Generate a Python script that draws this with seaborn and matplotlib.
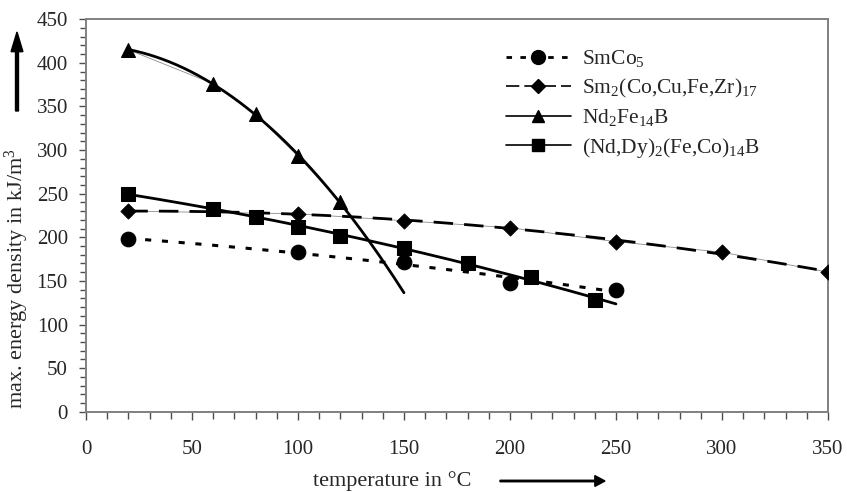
import numpy as np
import pandas as pd
import matplotlib
matplotlib.use("Agg")
from matplotlib import pyplot as plt
from matplotlib.lines import Line2D
from matplotlib.ticker import MultipleLocator
import seaborn as sns

# measured points (temperature in degC, energy density in kJ/m3)
smco5_t = [20, 100, 150, 200, 250]
smco5_bh = [198, 183, 172, 148, 140]

sm2co17_t = [20, 100, 150, 200, 250, 300, 350]
sm2co17_bh = [230, 227, 219, 211, 195, 183, 160]

ndfeb_t = [20, 60, 80, 100, 120]
ndfeb_bh = [415, 376, 341, 293, 240]

nddy_t = [20, 60, 80, 100, 120, 150, 180, 210, 240]
nddy_bh = [250, 233, 223, 212, 202, 188, 170, 154, 128]

sns.set_style("ticks")
plt.rcParams['font.family'] = ['Liberation Serif', 'DejaVu Serif']
plt.rcParams['mathtext.fontset'] = 'custom'
plt.rcParams['mathtext.rm'] = 'Liberation Serif'
plt.rcParams['mathtext.it'] = 'Liberation Serif:italic'


def trend(t, bh, t_end, order=2):
    coef = np.polyfit(t, bh, order)
    xs = np.linspace(t[0], t_end, 200)
    return pd.DataFrame({'t': xs, 'bh': np.polyval(coef, xs)})


fig = plt.figure(figsize=(8.47, 4.92), dpi=100)
ax = fig.add_axes([0.1015, 0.163, 0.876, 0.798])

# thin connecting lines between measured points
for t, bh in [(sm2co17_t, sm2co17_bh), (ndfeb_t, ndfeb_bh)]:
    sns.lineplot(x=t, y=bh, ax=ax, color='0.55', linewidth=0.6, sort=False)

# fitted trend lines
d = trend(smco5_t, smco5_bh, 250)
sns.lineplot(data=d, x='t', y='bh', ax=ax, color='black', linewidth=2.2,
             linestyle=(0, (2, 3.5)))
d = trend(sm2co17_t, sm2co17_bh, 350)
sns.lineplot(data=d, x='t', y='bh', ax=ax, color='black', linewidth=2.0,
             linestyle=(0, (7, 4)))
d = trend(ndfeb_t, ndfeb_bh, 150)
sns.lineplot(data=d, x='t', y='bh', ax=ax, color='black', linewidth=2.0)
d = trend(nddy_t, nddy_bh, 250)
sns.lineplot(data=d, x='t', y='bh', ax=ax, color='black', linewidth=2.0)

# markers
sns.scatterplot(x=smco5_t, y=smco5_bh, ax=ax, marker='o', s=110, color='black', edgecolor='black', zorder=5)
sns.scatterplot(x=sm2co17_t, y=sm2co17_bh, ax=ax, marker='D', s=60, color='black', edgecolor='black', zorder=5)
sns.scatterplot(x=ndfeb_t, y=ndfeb_bh, ax=ax, marker='^', s=100, color='black', edgecolor='black', zorder=5)
sns.scatterplot(x=nddy_t, y=nddy_bh, ax=ax, marker='s', s=90, color='black', edgecolor='black', zorder=5)

ax.set_xlim(0, 350)
ax.set_ylim(0, 450)
ax.xaxis.set_major_locator(MultipleLocator(50))
ax.xaxis.set_minor_locator(MultipleLocator(10))
ax.yaxis.set_major_locator(MultipleLocator(50))
ax.yaxis.set_minor_locator(MultipleLocator(10))
for s in ax.spines.values():
    s.set_color('0.5')
    s.set_linewidth(1.4)
ax.tick_params(which='both', color='0.3', width=1.0)
ax.tick_params(axis='x', which='major', length=6, pad=14, labelsize=15)
ax.tick_params(axis='x', which='minor', length=5)
ax.tick_params(axis='y', which='major', length=5, pad=8, labelsize=15)
ax.tick_params(axis='y', which='minor', length=4)
ax.set_xlabel('')
ax.set_ylabel('')

# axis labels with arrows
fig.text(392 / 847, 1 - 481 / 492, 'temperature in °C', ha='center', va='center', fontsize=16)
fig.text(17 / 847, 1 - 279 / 492, 'max. energy density in kJ/m$^3$', ha='center', va='center',
         rotation=90, fontsize=16)
fig.patches.append(matplotlib.patches.FancyArrow(
    500 / 847, 1 - 481 / 492, 105 / 847, 0, width=0.003, head_width=0.022,
    head_length=0.012, length_includes_head=True, color='black', transform=fig.transFigure))
fig.patches.append(matplotlib.patches.FancyArrow(
    17 / 847, 1 - 111 / 492, 0, 79 / 492, width=0.0035, head_width=0.014,
    head_length=0.04, length_includes_head=True, color='black', transform=fig.transFigure))

handles = [
    Line2D([], [], color='black', linestyle=(0, (2, 3)), linewidth=2, marker='o', markersize=10),
    Line2D([], [], color='black', linestyle=(0, (8, 3)), linewidth=1.2, marker='D', markersize=7),
    Line2D([], [], color='black', linewidth=1.2, marker='^', markersize=9),
    Line2D([], [], color='black', linewidth=1.2, marker='s', markersize=9),
]
labels = ['SmCo$_5$', 'Sm$_2$(Co,Cu,Fe,Zr)$_{17}$', 'Nd$_2$Fe$_{14}$B', '(Nd,Dy)$_2$(Fe,Co)$_{14}$B']
ax.legend(handles, labels, loc='upper left', bbox_to_anchor=(0.54, 0.975), frameon=False,
          fontsize=15.5, handlelength=3.0, labelspacing=0.35, handletextpad=0.55)

fig.savefig('out.png', dpi=100)
